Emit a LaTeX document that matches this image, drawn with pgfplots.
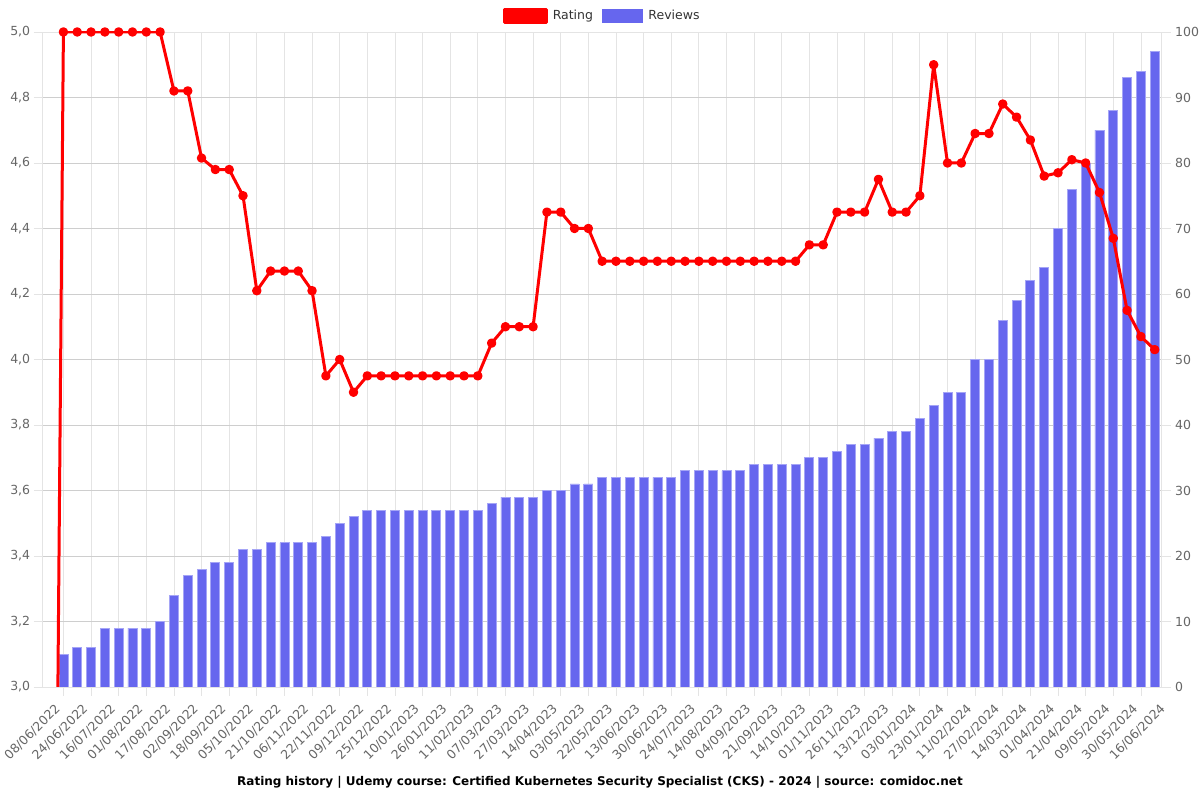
\documentclass[border=0pt]{standalone}
\usepackage{pgfplots}
\usepackage{pgfplotstable}
\pgfplotsset{compat=1.18}
\usepackage{fontspec}
\setmainfont{DejaVu Sans}
\definecolor{barblue}{RGB}{102,102,238}
\definecolor{baredge}{RGB}{165,165,246}
\definecolor{gridh}{RGB}{206,206,206}
\definecolor{gridv}{RGB}{228,228,228}
\definecolor{ticktext}{RGB}{102,102,102}

\pgfplotstableread{
x rating
0 0
1 5.00
2 5.00
3 5.00
4 5.00
5 5.00
6 5.00
7 5.00
8 5.00
9 4.82
10 4.82
11 4.615
12 4.58
13 4.58
14 4.50
15 4.21
16 4.27
17 4.27
18 4.27
19 4.21
20 3.95
21 4.00
22 3.90
23 3.95
24 3.95
25 3.95
26 3.95
27 3.95
28 3.95
29 3.95
30 3.95
31 3.95
32 4.05
33 4.10
34 4.10
35 4.10
36 4.45
37 4.45
38 4.40
39 4.40
40 4.30
41 4.30
42 4.30
43 4.30
44 4.30
45 4.30
46 4.30
47 4.30
48 4.30
49 4.30
50 4.30
51 4.30
52 4.30
53 4.30
54 4.30
55 4.35
56 4.35
57 4.45
58 4.45
59 4.45
60 4.55
61 4.45
62 4.45
63 4.50
64 4.90
65 4.60
66 4.60
67 4.69
68 4.69
69 4.78
70 4.74
71 4.67
72 4.56
73 4.57
74 4.61
75 4.60
76 4.51
77 4.37
78 4.15
79 4.07
80 4.03
}\ratingdata

\pgfplotstableread{
x reviews
1 5
2 6
3 6
4 9
5 9
6 9
7 9
8 10
9 14
10 17
11 18
12 19
13 19
14 21
15 21
16 22
17 22
18 22
19 22
20 23
21 25
22 26
23 27
24 27
25 27
26 27
27 27
28 27
29 27
30 27
31 27
32 28
33 29
34 29
35 29
36 30
37 30
38 31
39 31
40 32
41 32
42 32
43 32
44 32
45 32
46 33
47 33
48 33
49 33
50 33
51 34
52 34
53 34
54 34
55 35
56 35
57 36
58 37
59 37
60 38
61 39
62 39
63 41
64 43
65 45
66 45
67 50
68 50
69 56
70 59
71 62
72 64
73 70
74 76
75 80
76 85
77 88
78 93
79 94
80 97
}\reviewdata

\pgfplotsset{
  common/.style={
    at={(42.7pt,113pt)}, anchor=south west,
    width=1119pt, height=655pt, scale only axis,
    xmin=-0.5, xmax=80.5,
    tick align=outside,
    major tick length=9pt,
    minor tick length=9pt,
    tick style={draw=gridv, line width=0.8pt},
    ticklabel style={font=\fontsize{12.5}{15}\selectfont, text=ticktext},
    /pgf/number format/assume math mode=true,
  }
}

\begin{document}
\begin{tikzpicture}
\path[use as bounding box] (0,0) rectangle (1200pt,800pt);

% bars, grid, right axis, x labels
\begin{axis}[common,
  ymin=0, ymax=100,
  ytick={0,10,...,100},
  ytick pos=right, yticklabel pos=right,
  xtick pos=lower,
  xtick={1,3,...,79},
  xticklabels={},
  extra x ticks={0,2,...,80},
  extra x tick labels={08/06/2022,24/06/2022,16/07/2022,01/08/2022,17/08/2022,02/09/2022,18/09/2022,05/10/2022,21/10/2022,06/11/2022,22/11/2022,09/12/2022,25/12/2022,10/01/2023,26/01/2023,11/02/2023,07/03/2023,27/03/2023,14/04/2023,03/05/2023,22/05/2023,13/06/2023,30/06/2023,24/07/2023,14/08/2023,04/09/2023,21/09/2023,14/10/2023,01/11/2023,26/11/2023,13/12/2023,03/01/2024,23/01/2024,11/02/2024,27/02/2024,14/03/2024,01/04/2024,21/04/2024,09/05/2024,30/05/2024,16/06/2024},
  extra x tick style={grid=none, tick style={draw=none}},
  xticklabel style={xshift=4.5pt, yshift=-2pt, rotate=45, anchor=north east},
  xmajorgrids, ymajorgrids,
  x grid style={draw=gridv, line width=0.8pt},
  y grid style={draw=gridh, line width=0.8pt},
  x axis line style={draw=gridh, line width=0.8pt},
  y axis line style={draw=gridv, line width=0.8pt},
  yticklabel style={xshift=1pt},
]
\addplot[ybar, bar width=9pt, fill=barblue, draw=baredge, line width=0.8pt] table[x=x, y=reviews] {\reviewdata};
\end{axis}

% rating line, left axis, legend
\begin{axis}[common,
  ymin=3, ymax=5,
  hide x axis,
  ytick={3,3.2,3.4,3.6,3.8,4,4.2,4.4,4.6,4.8,5},
  ytick pos=left,
  y axis line style={draw=none},
  yticklabel style={/pgf/number format/.cd, fixed, fixed zerofill, precision=1, use comma},
  clip mode=individual,
  legend style={at={(0.5,1)}, anchor=center, yshift=16pt, draw=none, fill=none,
    font=\fontsize{12.5}{15}\selectfont, text=black!80, legend columns=2,
    /tikz/every even column/.append style={column sep=7pt}},
]
\addplot[red, line width=3pt, mark=*, mark size=3.2pt, line join=round,
  legend image code/.code={\fill[red] (0pt,-6.5pt) rectangle (42pt,6.5pt); \path (45pt,0pt);}]
  table[x=x, y=rating] {\ratingdata};
\addlegendentry{Rating}
\addlegendimage{legend image code/.code={\fill[barblue] (0pt,-6.5pt) rectangle (40pt,6.5pt); \path (44pt,0pt);}}
\addlegendentry{Reviews}
\end{axis}

\node[font=\bfseries\fontsize{12}{14}\selectfont] at (600pt,18pt) {Rating history | Udemy course: Certified Kubernetes Security Specialist (CKS) - 2024 | source: comidoc.net};
\end{tikzpicture}
\end{document}
